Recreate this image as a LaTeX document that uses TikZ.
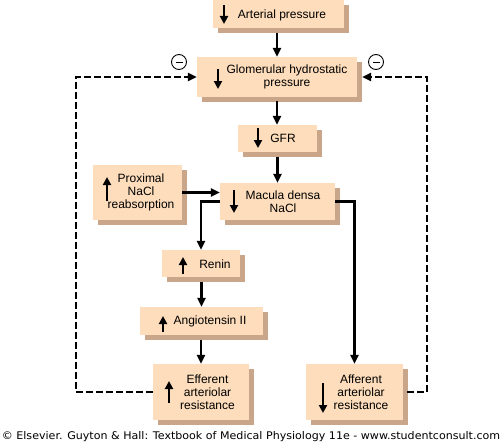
\documentclass[tikz,border=0pt]{standalone}
\usepackage{fontspec}
\setmainfont{Liberation Sans}
\newfontfamily\credfont[FakeStretch=1.05]{DejaVu Sans}
\usetikzlibrary{arrows.meta,shadows,calc}
\definecolor{boxfill}{HTML}{FDDDBB}
\definecolor{boxshadow}{HTML}{C9A58A}
\begin{document}
\begin{tikzpicture}[x=1pt,y=-1pt,
  box/.style={fill=boxfill, inner sep=0pt, draw=none,
    drop shadow={shadow xshift=5pt, shadow yshift=-5pt, fill=boxshadow, opacity=1}},
  conn/.style={line width=2.2pt, -{Triangle[length=9pt,width=8pt]}},
  dconn/.style={conn, dash pattern=on 6.5pt off 3.5pt},
  glyph/.style={line width=2.6pt, -{Triangle[length=8pt,width=8pt]}},
  lbl/.style={font=\fontsize{12}{13}\selectfont, align=center, inner sep=0pt},
  minus/.style={circle, draw, line width=0.9pt, minimum size=15pt, inner sep=0pt}
]
\fill[white] (0,0) rectangle (502,444);
\useasboundingbox (0,0) rectangle (502,444);

% boxes
\node[box, minimum width=131pt, minimum height=28pt] (art) at (278.5,14) {};
\node[box, minimum width=160pt, minimum height=40pt] (glo) at (277,77) {};
\node[box, minimum width=79pt, minimum height=27pt] (gfr) at (277.5,138.5) {};
\node[box, minimum width=115pt, minimum height=37pt] (mac) at (277.5,201.5) {};
\node[box, minimum width=89pt, minimum height=55pt] (prox) at (137.5,192.5) {};
\node[box, minimum width=78pt, minimum height=27pt] (ren) at (201,263.5) {};
\node[box, minimum width=123pt, minimum height=28pt] (ang) at (201.5,321) {};
\node[box, minimum width=96pt, minimum height=56pt] (eff) at (201,392) {};
\node[box, minimum width=97pt, minimum height=56pt] (aff) at (354.5,392) {};

% labels
\node[lbl] (artT) at (282,15) {Arterial pressure};
\node[lbl] (gloT) at (287,77) {Glomerular hydrostatic\\pressure};
\node[lbl] (gfrT) at (283,138.5) {GFR};
\node[lbl] (macT) at (283,201.5) {Macula densa\\NaCl};
\node[lbl] (proxT) at (141,192.5) {Proximal\\NaCl\\reabsorption};
\node[lbl] (renT) at (215,264) {Renin};
\node[lbl] (angT) at (210,321.5) {Angiotensin II};
\node[lbl] (effT) at (207.5,392) {Efferent\\arteriolar\\resistance};
\node[lbl] (affT) at (361,392) {Afferent\\arteriolar\\resistance};

% up/down glyphs
\draw[glyph] (224,5) -- (224,24);
\draw[glyph] (218,69) -- (218,89);
\draw[glyph] (258,128) -- (258,148);
\draw[glyph] (234,190) -- (234,213);
\draw[glyph] (107,201) -- (107,177);
\draw[glyph] (183,274) -- (183,257);
\draw[glyph] (163,332) -- (163,316);
\draw[glyph] (169,403) -- (169,381);
\draw[glyph] (323,383) -- (323,413);

% connectors
\draw[conn] ($(art.south -| glo.north)+(0,5)$) -- (glo.north);
\draw[conn] ($(glo.south)+(0,4)$) -- (gfr.north -| glo.south);
\draw[conn] ($(gfr.south -| mac.north)+(0,5)$) -- (mac.north);
\draw[conn] (prox.east) -- (prox.east -| mac.west);
\draw[conn] (mac.west) -| (ren.north);
\draw[conn] ($(ren.south -| ang.north)+(0,5)$) -- (ang.north);
\draw[conn] ($(ang.south -| eff.north)+(0,5)$) -- (eff.north);
\draw[conn] (mac.east) -| (aff.north);

% feedback loops
\coordinate (lc) at (76,392);
\coordinate (rc) at (427,392);
\draw[dconn] (eff.west) -- (lc) |- (glo.west);
\draw[dconn] ($(aff.east)+(4,0)$) -- (rc) |- ($(glo.east)+(5,0)$);

% minus signs
\node[minus] (m1) at (179,62) {};
\node[minus] (m2) at (376,62) {};
\draw[line width=1pt] ($(m1)+(-3.5,0)$) -- ($(m1)+(3.5,0)$);
\draw[line width=1pt] ($(m2)+(-3.5,0)$) -- ($(m2)+(3.5,0)$);

% credit line
\node[font=\credfont\fontsize{10.55}{12}\selectfont, inner sep=0pt] (cred) at (251,437)
  {© Elsevier. Guyton \& Hall: Textbook of Medical Physiology 11e - www.studentconsult.com};
\end{tikzpicture}
\end{document}
